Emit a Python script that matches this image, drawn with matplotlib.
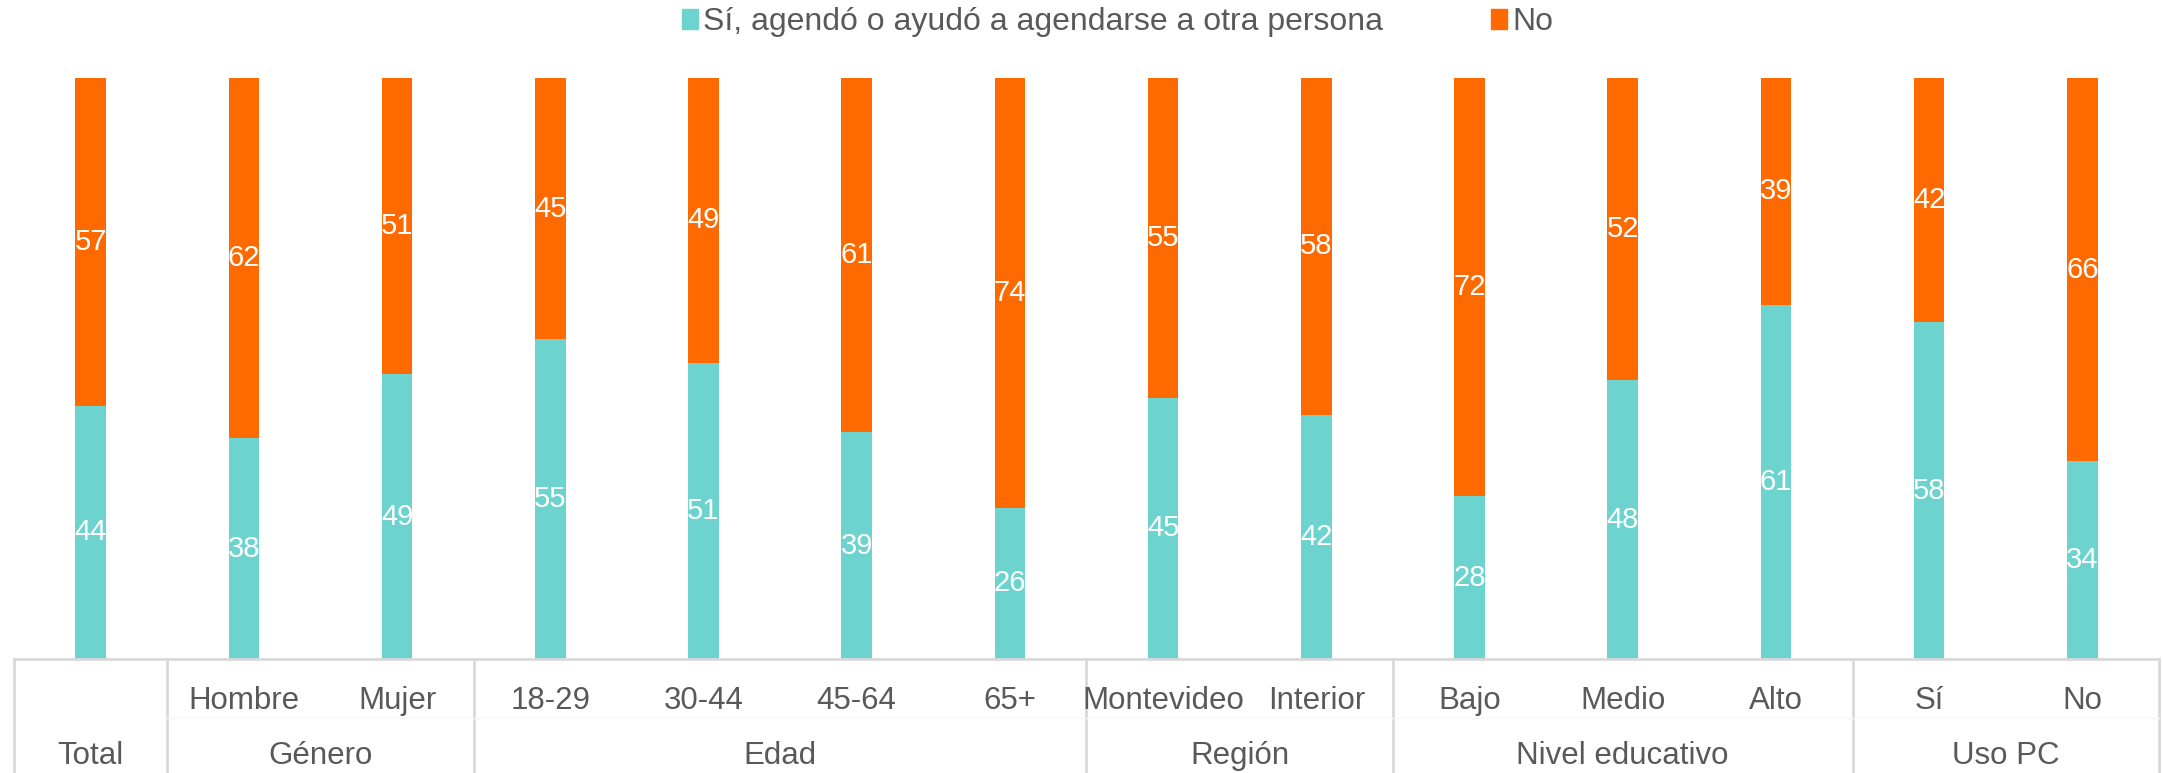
import matplotlib.pyplot as plt
from matplotlib.patches import Patch

plt.rcParams['font.family'] = ['Liberation Sans', 'DejaVu Sans']

categories = ['Total', 'Hombre', 'Mujer', '18-29', '30-44', '45-64', '65+',
              'Montevideo', 'Interior', 'Bajo', 'Medio', 'Alto', 'Sí', 'No']
si = [44, 38, 49, 55, 51, 39, 26, 45, 42, 28, 48, 61, 58, 34]
no = [57, 62, 51, 45, 49, 61, 74, 55, 58, 72, 52, 39, 42, 66]
groups = ['Total', 'Género', 'Edad', 'Región', 'Nivel educativo', 'Uso PC']
group_sizes = [1, 2, 4, 2, 3, 2]
series_names = ['Sí, agendó o ayudó a agendarse a otra persona', 'No']

teal = '#6CD3CE'
orange = '#FF6A00'
gray_text = '#595959'
line_col = '#D9D9D9'

W, H = 2163, 773
fig = plt.figure(figsize=(W / 100, H / 100), dpi=100)
ax = fig.add_axes([14 / W, 1 - 659 / H, (2159 - 14) / W, (659 - 78) / H])

x = list(range(len(categories)))
si_pct = [s / (s + n) * 100 for s, n in zip(si, no)]
no_pct = [n / (s + n) * 100 for s, n in zip(si, no)]

ax.bar(x, si_pct, width=0.2, color=teal)
ax.bar(x, no_pct, width=0.2, bottom=si_pct, color=orange)

for i in x:
    ax.text(i, si_pct[i] / 2, str(si[i]), ha='center', va='center',
            color='white', fontsize=21)
    ax.text(i, si_pct[i] + no_pct[i] / 2, str(no[i]), ha='center', va='center',
            color='white', fontsize=21)

ax.set_xlim(-0.5, len(categories) - 0.5)
ax.set_ylim(0, 100)
ax.set_xticks([])
ax.set_yticks([])
for s in ['top', 'left', 'right']:
    ax.spines[s].set_visible(False)
ax.spines['bottom'].set_color(line_col)
ax.spines['bottom'].set_linewidth(2)

# category table below the axis
trans = ax.get_xaxis_transform()
ax_h = 659 - 78
row1 = -42 / ax_h
row2 = -97 / ax_h
bottom = -(H - 659) / ax_h

for i, c in enumerate(categories):
    if c == 'Total':
        continue
    ax.text(i, row1, c, transform=trans, ha='center', va='center',
            color=gray_text, fontsize=22.5, clip_on=False)

start = 0
bounds = [-0.5]
for g, n in zip(groups, group_sizes):
    mid = start + (n - 1) / 2
    ax.text(mid, row2, g, transform=trans, ha='center', va='center',
            color=gray_text, fontsize=22.5, clip_on=False)
    start += n
    bounds.append(start - 0.5)

for b in bounds:
    ax.plot([b, b], [0, bottom], transform=trans, color=line_col, lw=2,
            clip_on=False)

ax.plot([0.5, len(categories) - 0.5], [-59 / ax_h] * 2, transform=trans,
        color='#F7F7F7', lw=1, clip_on=False)

handles = [Patch(color=teal), Patch(color=orange)]
fig.legend(handles, series_names, loc='center',
           bbox_to_anchor=(0.5 + 36 / W, 1 - 22 / H),
           ncol=2, frameon=False, fontsize=23, labelcolor=gray_text,
           handlelength=0.5, handleheight=0.6, handletextpad=0.15,
           columnspacing=3.4)

fig.savefig('out.png', dpi=100, facecolor='white')
